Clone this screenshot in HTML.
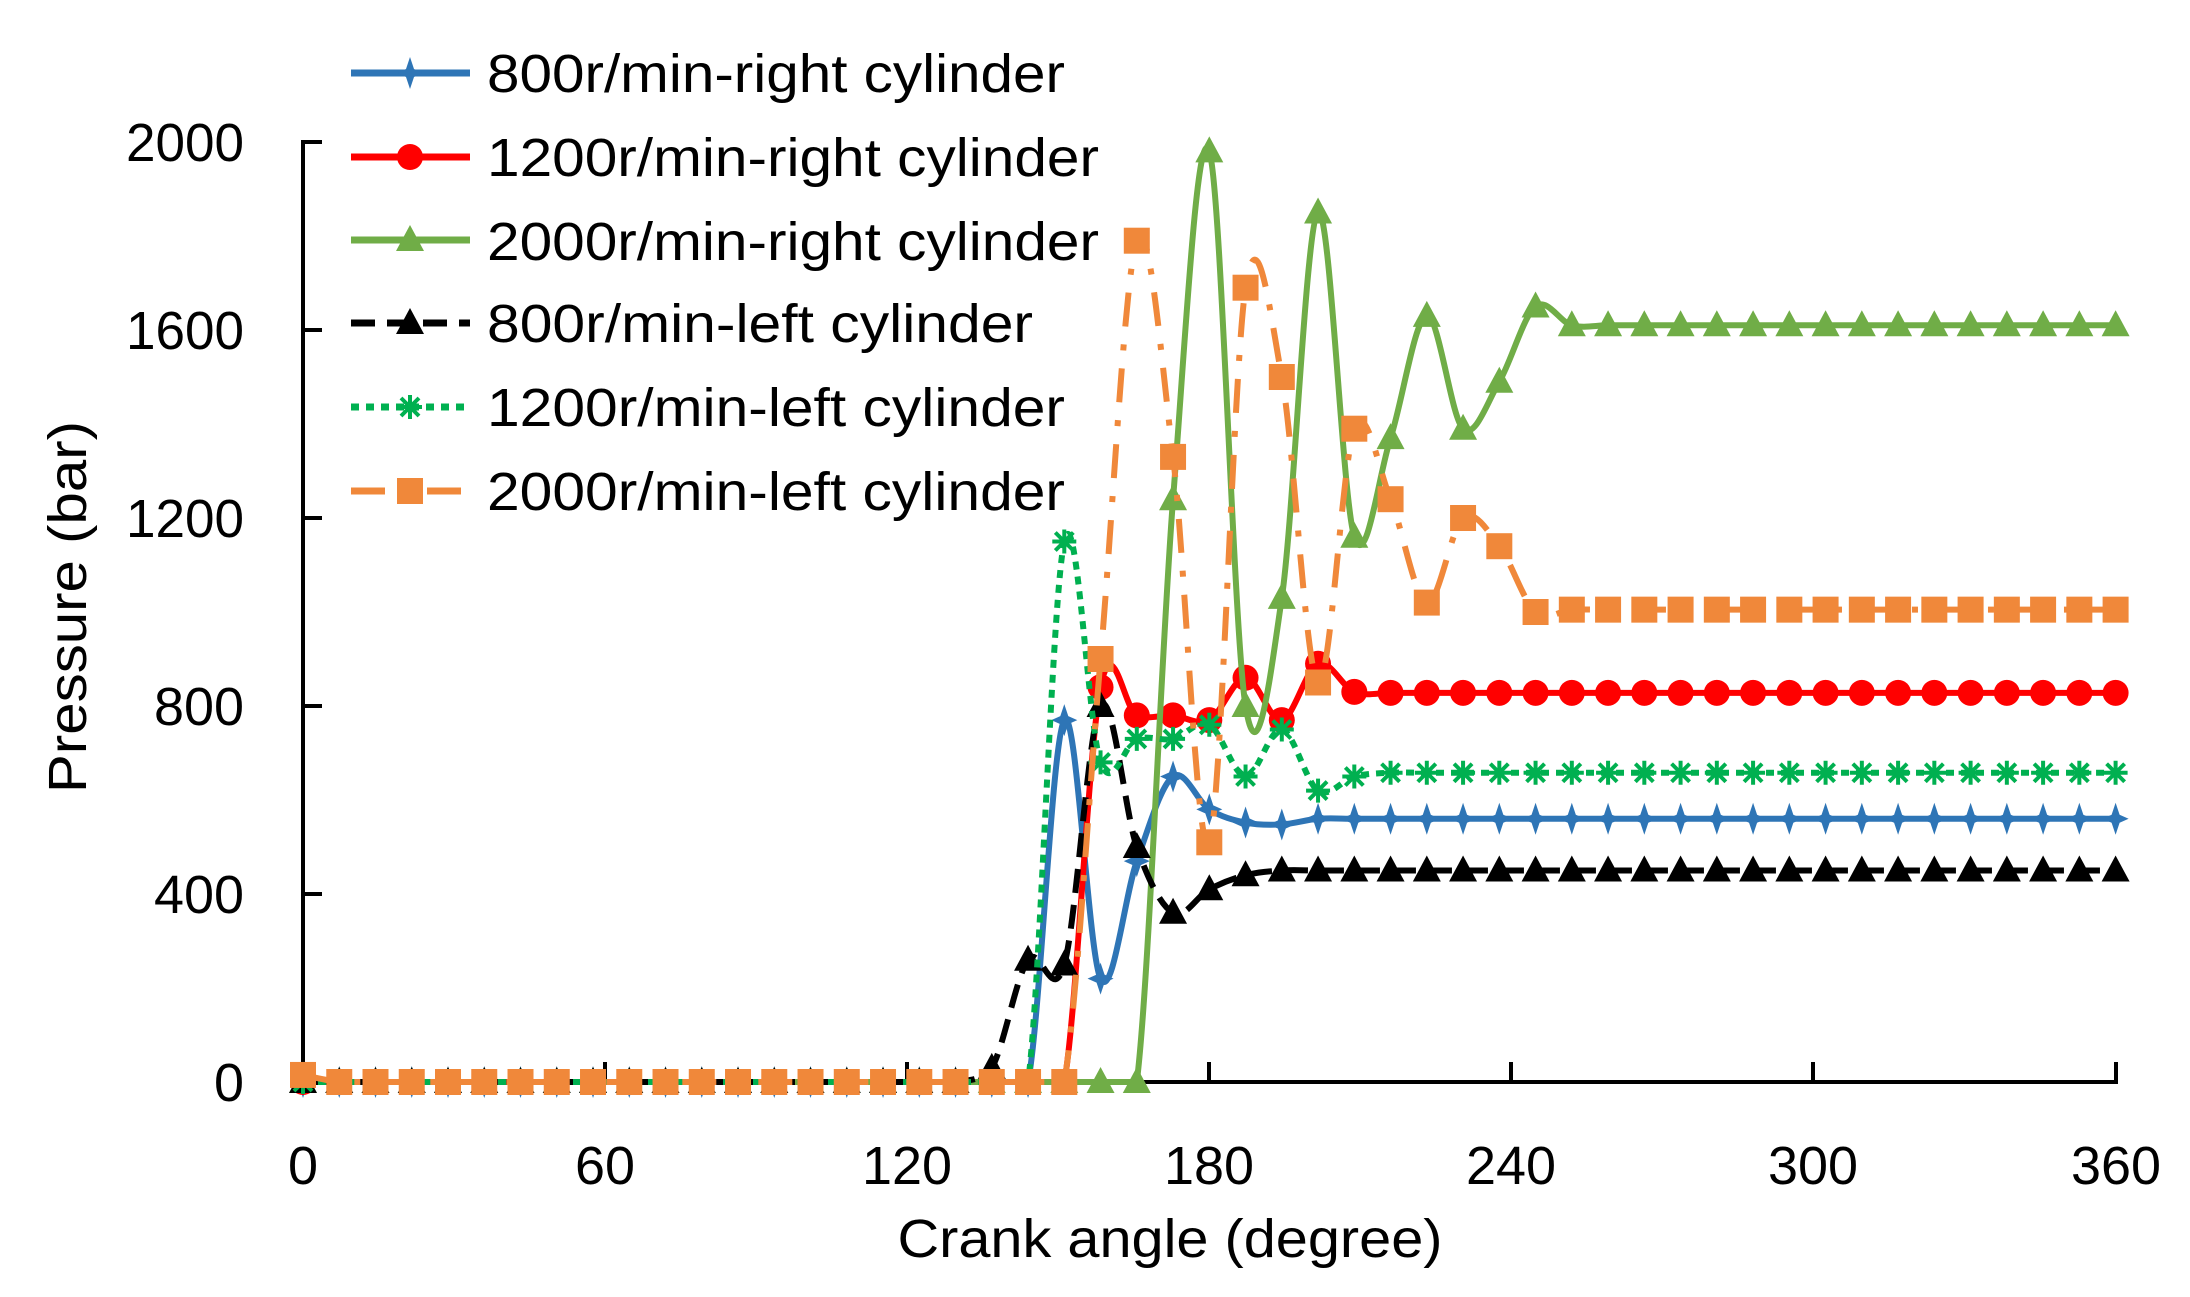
<!DOCTYPE html>
<html><head><meta charset="utf-8">
<style>
html,body{margin:0;padding:0;background:#fff;}
svg{display:block;}
text{font-family:"Liberation Sans Narrow","Liberation Sans",sans-serif;fill:#000;}
</style></head>
<body>
<svg id="s" width="2190" height="1297" viewBox="0 0 2190 1297" xmlns="http://www.w3.org/2000/svg">
<rect width="2190" height="1297" fill="#fff"/>
<g id="axes" stroke="#000" stroke-width="4" fill="none">
<line x1="303" y1="140" x2="303" y2="1084"/>
<line x1="301" y1="1082" x2="2118" y2="1082"/>
<line x1="303" y1="142" x2="322" y2="142"/>
<line x1="303" y1="330" x2="322" y2="330"/>
<line x1="303" y1="518" x2="322" y2="518"/>
<line x1="303" y1="706" x2="322" y2="706"/>
<line x1="303" y1="894" x2="322" y2="894"/>
<line x1="605" y1="1082" x2="605" y2="1062"/>
<line x1="907" y1="1082" x2="907" y2="1062"/>
<line x1="1209" y1="1082" x2="1209" y2="1062"/>
<line x1="1511" y1="1082" x2="1511" y2="1062"/>
<line x1="1813" y1="1082" x2="1813" y2="1062"/>
<line x1="2116" y1="1082" x2="2116" y2="1062"/>
</g>
<g font-size="54" text-anchor="end">
<text x="244" y="161" textLength="118" lengthAdjust="spacingAndGlyphs">2000</text>
<text x="244" y="349" textLength="118" lengthAdjust="spacingAndGlyphs">1600</text>
<text x="244" y="537" textLength="118" lengthAdjust="spacingAndGlyphs">1200</text>
<text x="244" y="725" textLength="90" lengthAdjust="spacingAndGlyphs">800</text>
<text x="244" y="913" textLength="90" lengthAdjust="spacingAndGlyphs">400</text>
<text x="244" y="1101" textLength="30" lengthAdjust="spacingAndGlyphs">0</text>
</g>
<g font-size="54" text-anchor="middle">
<text x="303" y="1184">0</text>
<text x="605" y="1184" textLength="60" lengthAdjust="spacingAndGlyphs">60</text>
<text x="907" y="1184" textLength="90" lengthAdjust="spacingAndGlyphs">120</text>
<text x="1209" y="1184" textLength="90" lengthAdjust="spacingAndGlyphs">180</text>
<text x="1511" y="1184" textLength="90" lengthAdjust="spacingAndGlyphs">240</text>
<text x="1813" y="1184" textLength="90" lengthAdjust="spacingAndGlyphs">300</text>
<text x="2116" y="1184" textLength="90" lengthAdjust="spacingAndGlyphs">360</text>
</g>
<text x="1170" y="1257" font-size="54" text-anchor="middle" textLength="545" lengthAdjust="spacingAndGlyphs">Crank angle (degree)</text>
<text transform="translate(86,607) rotate(-90)" font-size="54" text-anchor="middle" textLength="372" lengthAdjust="spacingAndGlyphs">Pressure (bar)</text>
<g id="series"></g>
<g id="legend" font-size="54">
<text x="487" y="92" textLength="578" lengthAdjust="spacingAndGlyphs">800r/min-right cylinder</text>
<text x="487" y="176" textLength="612" lengthAdjust="spacingAndGlyphs">1200r/min-right cylinder</text>
<text x="487" y="260" textLength="612" lengthAdjust="spacingAndGlyphs">2000r/min-right cylinder</text>
<text x="487" y="342" textLength="546" lengthAdjust="spacingAndGlyphs">800r/min-left cylinder</text>
<text x="487" y="426" textLength="578" lengthAdjust="spacingAndGlyphs">1200r/min-left cylinder</text>
<text x="487" y="510" textLength="578" lengthAdjust="spacingAndGlyphs">2000r/min-left cylinder</text>
</g>
</svg>
<script>
(function(){
var NS="http://www.w3.org/2000/svg";
function X(d){return 303+d*5.035;}
function Y(v){return 1082-v*0.47;}
function mk(tag,attrs,parent){var e=document.createElementNS(NS,tag);for(var k in attrs)e.setAttribute(k,attrs[k]);parent.appendChild(e);return e;}
function build(overrides,flat,n){var a=[];for(var k=0;k<=50;k++){a.push(overrides[k]!==undefined?overrides[k]:(k>=n?flat:0));}return a;}
var S=[
 {c:"#2E75B6",dash:null,m:"plus",v:build({20:0,21:770,22:220,23:470,24:650,25:580,26:552,27:548},560,28)},
 {c:"#FF0000",dash:null,m:"circle",v:build({21:0,22:840,23:780,24:780,25:770,26:860,27:770,28:890,29:830},828,30)},
 {c:"#70AD47",dash:null,m:"tri",v:build({23:0,24:1240,25:1980,26:800,27:1030,28:1850,29:1160,30:1370,31:1630,32:1390,33:1490,34:1650},1610,35)},
 {c:"#000000",dash:"24 12",m:"tri",v:build({19:30,20:260,21:250,22:800,23:500,24:360,25:410,26:440},450,27)},
 {c:"#00B050",dash:"8 7",m:"star",v:build({20:0,21:1150,22:680,23:730,24:730,25:760,26:650,27:750,28:620,29:650},658,30)},
 {c:"#F0883A",dash:"34 18 6 18",m:"square",v:build({0:15,22:900,23:1790,24:1330,25:510,26:1690,27:1500,28:850,29:1390,30:1240,31:1020,32:1200,33:1140,34:1000},1005,35)}
];
var g=document.getElementById("series"), lg=document.getElementById("legend");
function marker(type,x,y,c,p){
 if(type==="circle"){mk("circle",{cx:x,cy:y,r:13,fill:c},p);}
 else if(type==="square"){mk("rect",{x:x-13,y:y-13,width:26,height:26,fill:c},p);}
 else if(type==="tri"){mk("polygon",{points:(x)+","+(y-15)+" "+(x+14)+","+(y+11)+" "+(x-14)+","+(y+11),fill:c},p);}
 else if(type==="plus"){mk("polygon",{points:(x)+","+(y-16)+" "+(x+4)+","+(y-4)+" "+(x+13)+","+(y)+" "+(x+4)+","+(y+4)+" "+(x)+","+(y+16)+" "+(x-4)+","+(y+4)+" "+(x-13)+","+(y)+" "+(x-4)+","+(y-4),fill:c},p);}
 else if(type==="star"){var s=12;mk("path",{d:"M"+(x-s)+" "+y+"H"+(x+s)+"M"+x+" "+(y-s)+"V"+(y+s)+"M"+(x-9)+" "+(y-9)+"L"+(x+9)+" "+(y+9)+"M"+(x+9)+" "+(y-9)+"L"+(x-9)+" "+(y+9),stroke:c,"stroke-width":4,fill:"none"},p);}
}
var Y0=Y(0);
S.forEach(function(s,i){
 var pts=s.v.map(function(v,k){return [X(k*7.2),Y(v)];});
 var d="M"+pts[0][0]+" "+pts[0][1];
 for(var k=0;k<pts.length-1;k++){
  var p0=pts[Math.max(0,k-1)],p1=pts[k],p2=pts[k+1],p3=pts[Math.min(pts.length-1,k+2)];
  var t=1/6;
  var c1x=p1[0]+(p2[0]-p0[0])*t,c1y=p1[1]+(p2[1]-p0[1])*t;
  var c2x=p2[0]-(p3[0]-p1[0])*t,c2y=p2[1]-(p3[1]-p1[1])*t;
  if(c1y>Y0)c1y=Y0; if(c2y>Y0)c2y=Y0;
  d+=" C"+c1x+" "+c1y+" "+c2x+" "+c2y+" "+p2[0]+" "+p2[1];
 }
 var a={d:d,stroke:s.c,"stroke-width":6,fill:"none","stroke-linejoin":"round"};
 if(s.dash)a["stroke-dasharray"]=s.dash;
 var sg=mk("g",{},g);
 mk("path",a,sg);
 pts.forEach(function(p){marker(s.m,p[0],p[1],s.c,sg);});
 var ly=[73,157,240,323,407,491][i];
 var la={x1:351,y1:ly,x2:470,y2:ly,stroke:s.c,"stroke-width":7};
 if(s.dash)la["stroke-dasharray"]=s.dash;
 mk("line",la,lg);
 marker(s.m,410,ly,s.c,lg);
});
})();
</script>
</body></html>
